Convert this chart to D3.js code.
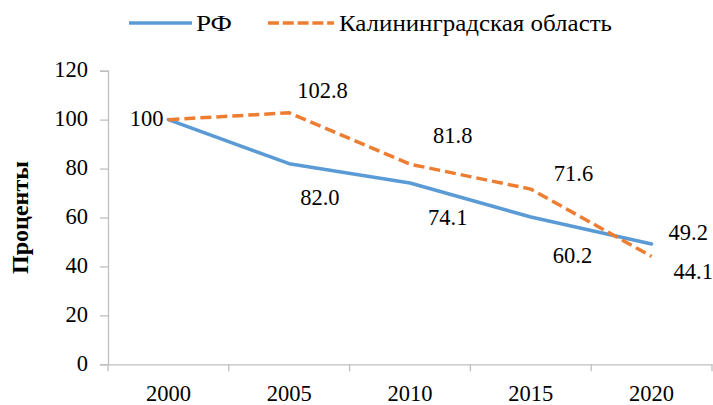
<!DOCTYPE html>
<html>
<head>
<meta charset="utf-8">
<script src="https://cdn.jsdelivr.net/npm/d3@7"></script>
<style>
  body { margin: 0; background: #fff; }
  svg { display: block; }
</style>
</head>
<body>
<svg id="chart" width="713" height="405"></svg>
<script>
const years = ["2000", "2005", "2010", "2015", "2020"];
const rfValues = [100, 82.0, 74.1, 60.2, 49.2];
const kalValues = [100, 102.8, 81.8, 71.6, 44.1];
const rfLabels = ["", "82.0", "74.1", "60.2", "49.2"];
const kalLabels = ["100", "102.8", "81.8", "71.6", "44.1"];
const yTicks = [0, 20, 40, 60, 80, 100, 120];
const seriesNames = ["РФ", "Калининградская область"];
const yTitle = "Проценты";

(function () {
const FONT = '"Liberation Serif"';
const svg = d3.select("#chart");
const mLeft = 108, mRight = 712, mTop = 70.7, mBottom = 364.3;
const fs = 22.5;

const x = d3.scaleBand().domain(years).range([mLeft, mRight]).padding(0);
const y = d3.scaleLinear().domain([0, 120]).range([mBottom, mTop]);
const cx = d => x(d) + x.bandwidth() / 2;

function setFont(sel, size) {
  return sel.attr("font-family", null).attr("font-size", null)
    .style("font-family", FONT).style("font-size", size + "px");
}

// Y axis
const yAxis = d3.axisLeft(y).tickValues(yTicks).tickSize(8).tickPadding(12);
const gy = svg.append("g").attr("transform", `translate(${mLeft},0)`).call(yAxis);
setFont(gy, fs);
gy.select(".domain").attr("stroke", "#bfbfbf").attr("stroke-width", 1.3).attr("fill", "none");
gy.selectAll(".tick line").attr("stroke", "#bfbfbf").attr("stroke-width", 1.3);
setFont(gy.selectAll(".tick text"), fs).attr("fill", "#000").attr("dy", "0.26em");

// X axis
const xAxis = d3.axisBottom(x).tickSize(0).tickPadding(20.5);
const gx = svg.append("g").attr("transform", `translate(0,${mBottom})`).call(xAxis);
setFont(gx, fs);
gx.select(".domain").attr("stroke", "#bfbfbf").attr("stroke-width", 1.3).attr("fill", "none");
setFont(gx.selectAll(".tick text"), fs).attr("fill", "#000");
const bounds = years.map(d => x(d)).concat([mRight]);
gx.selectAll("line.bound").data(bounds).enter().append("line")
  .attr("class", "bound").attr("x1", d => d).attr("x2", d => d)
  .attr("y1", 0).attr("y2", 7).attr("stroke", "#bfbfbf").attr("stroke-width", 1.3);

// Y title
setFont(svg.append("text"), 23)
  .attr("fill", "#000")
  .attr("transform", `translate(28,${(mTop + mBottom) / 2}) rotate(-90)`)
  .attr("text-anchor", "middle")
  .attr("textLength", 113).attr("lengthAdjust", "spacingAndGlyphs")
  .style("font-weight", "bold")
  .text(yTitle);

// Lines
const line = d3.line().x(d => cx(d.year)).y(d => y(d.v));
const rfData = years.map((yr, i) => ({year: yr, v: rfValues[i]}));
const kalData = years.map((yr, i) => ({year: yr, v: kalValues[i]}));

svg.append("path").datum(rfData).attr("d", line)
  .attr("fill", "none").attr("stroke", "#5B9BD5").attr("stroke-width", 3.5)
  .attr("stroke-linejoin", "round").attr("stroke-linecap", "round");
svg.append("path").datum(kalData).attr("d", line)
  .attr("fill", "none").attr("stroke", "#ED7D31").attr("stroke-width", 3.5)
  .attr("stroke-dasharray", "11,5").attr("stroke-linejoin", "round");

// Data labels
const rfOffsets = [[0, 0], [11, 41], [18, 42], [22, 46], [17, -4]];
const kalOffsets = [[-5, 6, "end"], [8, -15], [23, -21], [23, -8], [22, 23]];

function addLabels(data, labels, offsets) {
  const t = svg.append("g").selectAll("text").data(data).enter().append("text")
    .attr("x", (d, i) => cx(d.year) + offsets[i][0])
    .attr("y", (d, i) => y(d.v) + offsets[i][1])
    .attr("text-anchor", (d, i) => offsets[i][2] || "start")
    .attr("fill", "#000")
    .text((d, i) => labels[i]);
  setFont(t, fs);
}
addLabels(rfData, rfLabels, rfOffsets);
addLabels(kalData, kalLabels, kalOffsets);

// Legend
const lg = svg.append("g");
lg.append("line").attr("x1", 129).attr("x2", 192).attr("y1", 23).attr("y2", 23)
  .attr("stroke", "#5B9BD5").attr("stroke-width", 3.5);
setFont(lg.append("text"), 23.5).attr("fill", "#000").attr("x", 196).attr("y", 31)
  .attr("textLength", 36).attr("lengthAdjust", "spacingAndGlyphs").text(seriesNames[0]);
lg.append("line").attr("x1", 268).attr("x2", 334).attr("y1", 23).attr("y2", 23)
  .attr("stroke", "#ED7D31").attr("stroke-width", 3.5).attr("stroke-dasharray", "11,3.8");
setFont(lg.append("text"), 23.5).attr("fill", "#000").attr("x", 339).attr("y", 31)
  .attr("textLength", 273).attr("lengthAdjust", "spacingAndGlyphs").text(seriesNames[1]);
})();
</script>
</body>
</html>
